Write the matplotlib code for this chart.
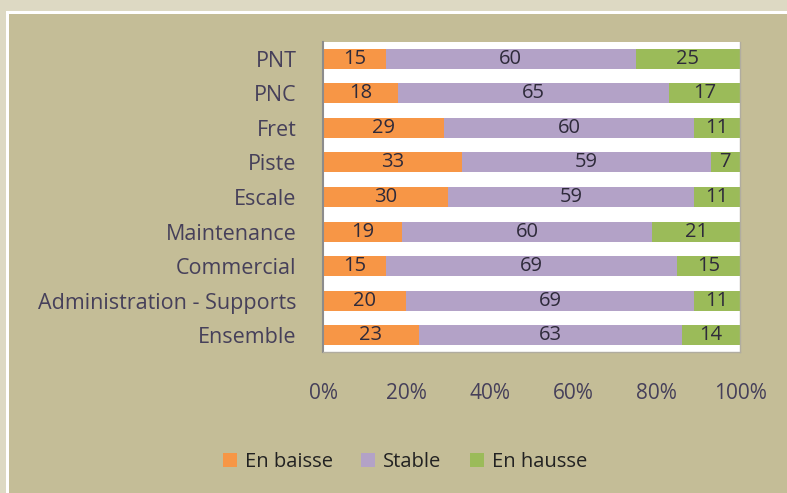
""" plot.py """

import numpy as np
import matplotlib.pyplot as plt
from matplotlib.patches import Rectangle

categories = ["PNT", "PNC", "Fret", "Piste", "Escale", "Maintenance",
              "Commercial", "Administration - Supports", "Ensemble"]
en_baisse = [15, 18, 29, 33, 30, 19, 15, 20, 23]
stable = [60, 65, 60, 59, 59, 60, 69, 69, 63]
en_hausse = [25, 17, 11, 7, 11, 21, 15, 11, 14]
series_names = ["En baisse", "Stable", "En hausse"]
tick_labels = ["0%", "20%", "40%", "60%", "80%", "100%"]

colors = ["#f79646", "#b3a2c7", "#9bbb59"]
text_color = "#46405a"
fs = 14.5
plt.rcParams['font.family'] = ['Open Sans', 'DejaVu Sans']

fig = plt.figure(figsize=(7.87, 4.93), dpi=100)
fig.patch.set_facecolor("#ddd9c3")
# white frame + tan panel
fig.patches.append(Rectangle((6 / 787, 0), 1, 1 - 11 / 493, transform=fig.transFigure,
                             facecolor="white", edgecolor="none", zorder=-2))
fig.patches.append(Rectangle((9 / 787, 0), 1, 1 - 14 / 493, transform=fig.transFigure,
                             facecolor="#c4bd97", edgecolor="none", zorder=-1))

ax = fig.add_axes([323 / 787, 1 - 352 / 493, (740 - 323) / 787, (352 - 42) / 493])
ax.set_facecolor("white")

y = np.arange(len(categories))
data = [en_baisse, stable, en_hausse]
totals = np.array(en_baisse) + np.array(stable) + np.array(en_hausse)
left = np.zeros(len(categories))
for name, vals, col in zip(series_names, data, colors):
    vals = np.array(vals, dtype=float)
    w = vals / totals
    bars = ax.barh(y, w, left=left, height=0.58, color=col, label=name)
    ax.bar_label(bars, labels=[str(int(v)) for v in vals], label_type="center",
                 fontsize=fs, color="#2e2a3a")
    left += w

ax.set_xlim(0, 1)
ax.set_ylim(len(categories) - 0.52, -0.48)
ax.set_yticks(y)
ax.set_yticklabels(categories, fontsize=15.5, color=text_color)
ax.set_xticks(np.linspace(0, 1, 6))
ax.set_xticklabels(tick_labels, fontsize=15, color=text_color)
ax.tick_params(axis="both", length=0)
ax.tick_params(axis="x", pad=22)
ax.tick_params(axis="y", pad=19)
for s in ["top"]:
    ax.spines[s].set_visible(False)
for s in ["right", "bottom"]:
    ax.spines[s].set_color("#b0aca0")
    ax.spines[s].set_linewidth(1.0)
ax.spines["left"].set_color("#8c8c8c")
ax.spines["left"].set_linewidth(1.5)

fig.legend(loc="center", bbox_to_anchor=(405 / 787, 1 - 462 / 493), ncol=3,
           frameon=False, fontsize=fs, handlelength=0.7, handleheight=0.7,
           handletextpad=0.4, columnspacing=1.4, labelcolor="#222222")

fig.savefig("out.png", dpi=100, facecolor=fig.get_facecolor())
